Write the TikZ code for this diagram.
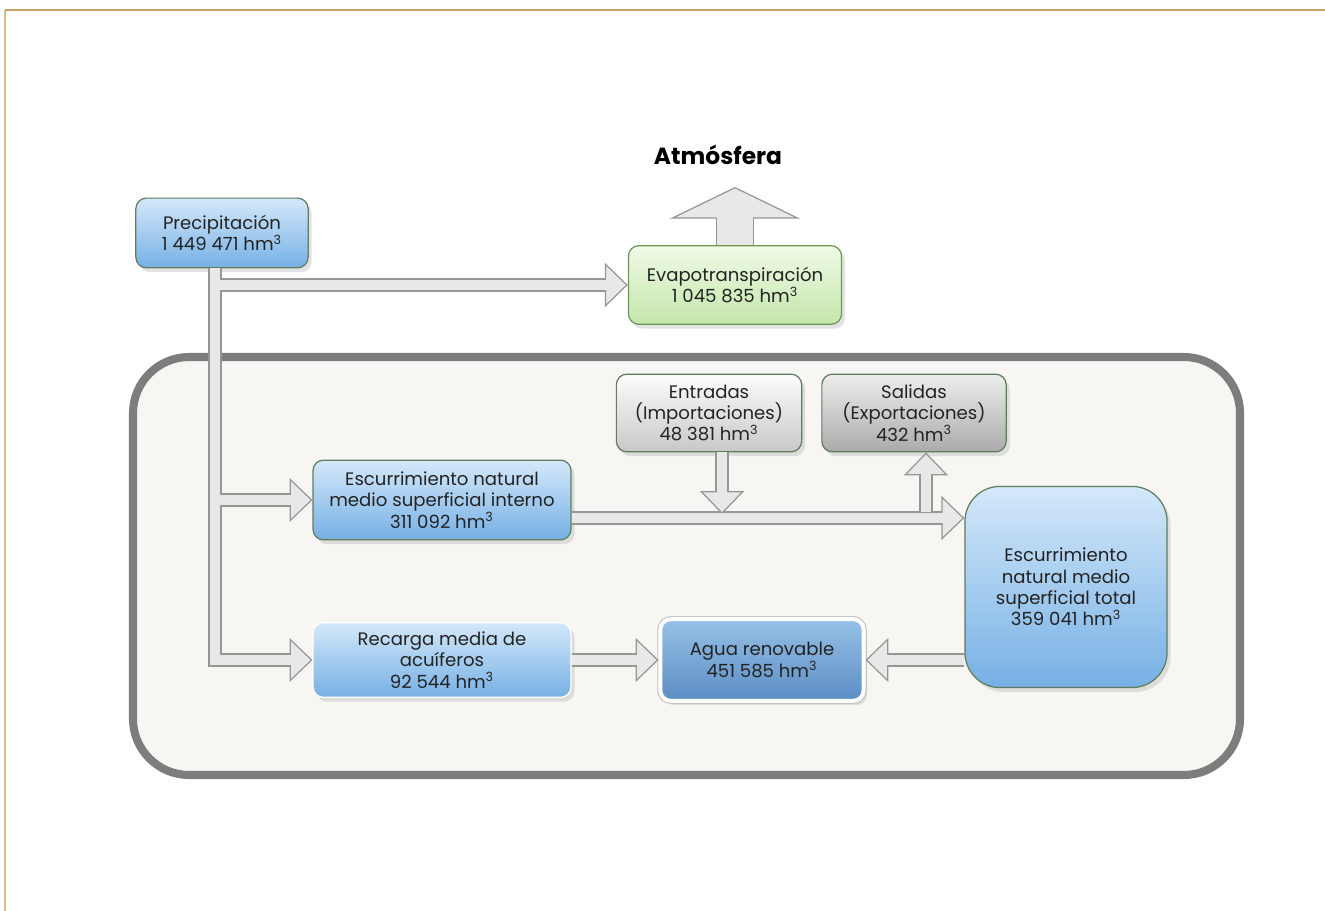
\documentclass[tikz,border=0pt]{standalone}
\usepackage{fontspec}
\setmainfont{Poppins}
\usetikzlibrary{arrows.meta,shadows,calc}
\definecolor{goldA}{RGB}{200,160,100}
\definecolor{goldB}{RGB}{218,190,145}
\definecolor{txt}{RGB}{35,35,35}
\definecolor{frameG}{RGB}{125,125,125}
\definecolor{frameF}{RGB}{247,246,242}
\definecolor{blueA}{RGB}{212,232,250}
\definecolor{blueB}{RGB}{118,176,228}
\definecolor{blueC}{RGB}{150,192,230}
\definecolor{blueD}{RGB}{92,142,196}
\definecolor{greenA}{RGB}{240,250,232}
\definecolor{greenB}{RGB}{196,230,170}
\definecolor{greenL}{RGB}{110,150,85}
\definecolor{greyA}{RGB}{252,252,252}
\definecolor{greyB}{RGB}{200,200,200}
\definecolor{greyC}{RGB}{238,238,238}
\definecolor{greyD}{RGB}{170,170,170}
\definecolor{boxL}{RGB}{95,125,95}
\definecolor{pipeL}{RGB}{150,150,150}
\definecolor{pipeF}{RGB}{232,232,232}
\begin{document}
\begin{tikzpicture}[x=0.02cm,y=-0.02cm,
  box/.style={rounded corners=6pt, draw=boxL, line width=0.7pt, align=center,
    font=\fontsize{10.3}{12.2}\selectfont, text=txt, inner sep=1pt,
    drop shadow={opacity=0.22, shadow xshift=2pt, shadow yshift=-2.5pt}},
  bluebox/.style={box, top color=blueA, bottom color=blueB},
  pipeO/.style={draw=pipeL, line width=8pt},
  pipeI/.style={draw=pipeF, line width=6pt},
  tipS/.style={-{Triangle[width=25pt,length=13pt,line width=0.7pt,color=pipeL,fill=pipeF]}},
  shortI/.style={shorten >=12pt}
]
\useasboundingbox (0,0) rectangle (1325,911);
\fill[white] (0,0) rectangle (1325,911);
% page frame
\draw[goldB, line width=1.4pt] (5,10) -- (5,911);
\draw[goldA, line width=1.4pt] (5,10) -- (1325,10);

% container
\draw[draw=frameG, fill=frameF, line width=4.6pt, rounded corners=32pt] (133,357) rectangle (1240,775);

% title
\node[font=\bfseries\fontsize{13.3}{16}\selectfont, text=black] (atm) at (718,155) {Atmósfera};

% nodes
\node[bluebox, minimum width=173*0.5669pt, minimum height=70*0.5669pt] (precip) at (222,233)
  {Precipitación\\1 449 471 hm\textsuperscript{3}};
\node[box, top color=greenA, bottom color=greenB, draw=greenL, minimum width=214*0.5669pt, minimum height=79*0.5669pt] (evap) at (735,285)
  {Evapotranspiración\\1 045 835 hm\textsuperscript{3}};
\node[box, top color=greyA, bottom color=greyB, minimum width=186*0.5669pt, minimum height=78*0.5669pt] (entr) at (709,413)
  {Entradas\\(Importaciones)\\48 381 hm\textsuperscript{3}};
\node[box, top color=greyC, bottom color=greyD, minimum width=185*0.5669pt, minimum height=78*0.5669pt] (sal) at (914,413)
  {Salidas\\(Exportaciones)\\432 hm\textsuperscript{3}};
\node[bluebox, minimum width=259*0.5669pt, minimum height=80*0.5669pt] (escint) at (442,500)
  {Escurrimiento natural\\medio superficial interno\\311 092 hm\textsuperscript{3}};
\node[bluebox, draw=white, minimum width=259*0.5669pt, minimum height=75*0.5669pt] (rec) at (442,660)
  {Recarga media de\\acuíferos\\92 544 hm\textsuperscript{3}};
\node[box, top color=blueC, bottom color=blueD, draw=white, line width=2.2pt,
  preaction={draw=gray!45, line width=3.6pt},
  minimum width=204*0.5669pt, minimum height=82*0.5669pt] (agua) at (762,660)
  {Agua renovable\\451 585 hm\textsuperscript{3}};
\node[bluebox, rounded corners=20pt, minimum width=203*0.5669pt, minimum height=202*0.5669pt] (tot) at (1066,587)
  {Escurrimiento\\natural medio\\superficial total\\359 041 hm\textsuperscript{3}};

% helper coordinates
\coordinate (tx) at (215,0);
\coordinate (py) at (0,518);
\coordinate (eTip) at (722,514);
\coordinate (sBase) at (926,512);
\coordinate (aTip) at (735,187);

% --- outer pass of pipes
\draw[pipeO, tipS] ($(precip.south)+(-7,0)$) |- (rec.west);
\draw[pipeO, tipS] (evap.west -| tx) -- (evap.west);
\draw[pipeO, tipS] (escint.west -| tx) -- (escint.west);
\draw[pipeO, tipS] (escint.east |- py) -- (tot.west |- py);
\draw[pipeO, tipS] ($(entr.south)+(13,0)$) -- (eTip);
\draw[pipeO, tipS] (sBase) -- ($(sal.south)+(12,0)$);
\draw[pipeO, tipS] (rec.east) -- (agua.west);
\draw[pipeO, tipS] (tot.west |- agua.east) -- (agua.east);
\draw[draw=pipeL, line width=22pt, -{Triangle[width=74pt,length=18pt,line width=0.7pt,color=pipeL,fill=pipeF]}] (evap.north) -- (aTip);

% --- inner pass of pipes
\draw[pipeI] ($(precip.south)+(-7,0)$) |- ([xshift=-12pt]rec.west);
\draw[pipeI, shortI] (evap.west -| tx) -- (evap.west);
\draw[pipeI, shortI] (escint.west -| tx) -- (escint.west);
\draw[pipeI, shortI] (escint.east |- py) -- (tot.west |- py);
\draw[pipeI, shortI] ($(entr.south)+(13,0)$) -- (eTip);
\draw[pipeI, shortI] (sBase) -- ($(sal.south)+(12,0)$);
\draw[pipeI, shortI] (rec.east) -- (agua.west);
\draw[pipeI, shortI] (tot.west |- agua.east) -- (agua.east);
\draw[draw=pipeF, line width=20pt, shorten >=17pt] (evap.north) -- (aTip);
\end{tikzpicture}
\end{document}
